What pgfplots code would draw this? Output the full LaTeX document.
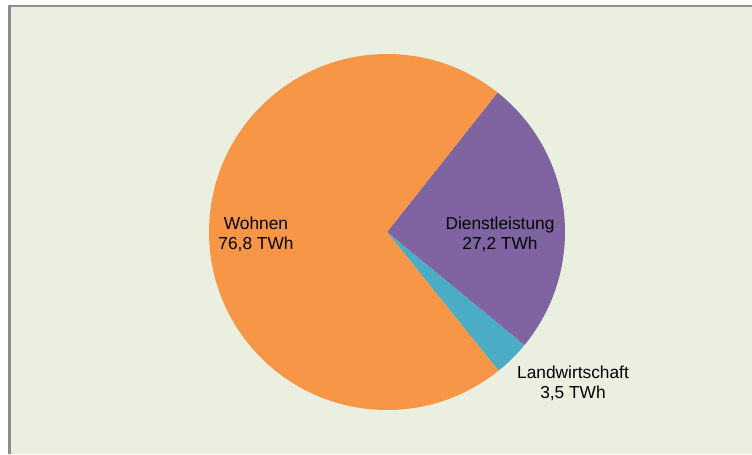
\documentclass[border=0pt]{standalone}
\usepackage{fontspec}
\setmainfont{Liberation Sans}
\usepackage{pgfplots}
\usepackage{pgfplotstable}
\pgfplotsset{compat=1.18}

\definecolor{bgpanel}{HTML}{EBEFDF}
\definecolor{frame}{HTML}{8C8C8C}
\definecolor{wohnen}{HTML}{F79646}
\definecolor{dienst}{HTML}{8064A2}
\definecolor{landw}{HTML}{4BACC6}

% Stromverbrauch nach Sektor, in TWh (clockwise from the top right)
\pgfplotstableread{
sector          value  color
Dienstleistung  27.2   dienst
Landwirtschaft  3.5    landw
Wohnen          76.8   wohnen
}\piedata

\begin{document}
\begin{tikzpicture}
\begin{axis}[
    scale only axis,
    width=564pt, height=340.5pt,
    xmin=0, xmax=752, ymin=0, ymax=454,
    hide axis,
]
\pgfplotsextra{
  % panel and frame
  \fill[white] (axis cs:0,0) rectangle (axis cs:752,454);
  \fill[bgpanel] (axis cs:9,0) rectangle (axis cs:752,448);
  \draw[frame, line width=1.6pt] (axis cs:9.5,0) -- (axis cs:9.5,448) -- (axis cs:752,448);
  % pie: centre (387,222), radius 178 units = 133.5pt
  \def\radius{133.5pt}
  \def\total{0}
  \pgfplotsforeachungrouped \i in {0,1,2}{%
    \pgfplotstablegetelem{\i}{value}\of\piedata
    \pgfmathsetmacro\total{\total+\pgfplotsretval}%
  }
  \def\startangle{51.6}
  \pgfplotsforeachungrouped \i in {0,1,2}{%
    \pgfplotstablegetelem{\i}{value}\of\piedata
    \pgfmathsetmacro\endangle{\startangle-\pgfplotsretval/\total*360}%
    \pgfplotstablegetelem{\i}{color}\of\piedata
    \edef\cmd{\noexpand\fill[\pgfplotsretval] (axis cs:387,222) -- ++(\startangle:\radius)
      arc[start angle=\startangle, end angle=\endangle, radius=\radius] -- cycle;}%
    \cmd
    \let\startangle\endangle
  }
  % labels
  \begingroup
  \fontsize{13}{15}\selectfont
  \node[align=center, inner sep=0pt] at (axis cs:256,220) {Wohnen\\76,8 TWh};
  \node[align=center, inner sep=0pt] at (axis cs:500,220) {Dienstleistung\\27,2 TWh};
  \node[align=center, inner sep=0pt] at (axis cs:573,71) {Landwirtschaft\\3,5 TWh};
  \endgroup
}
\end{axis}
\end{tikzpicture}
\end{document}
